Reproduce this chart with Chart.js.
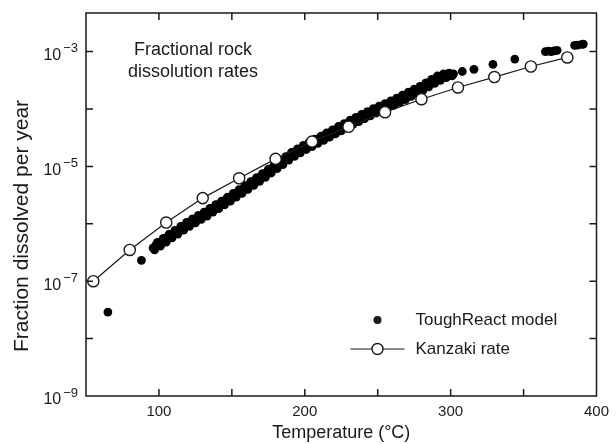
<!DOCTYPE html>
<html>
<head>
<meta charset="utf-8">
<script src="https://cdn.jsdelivr.net/npm/chart.js@4"></script>
<style>
  html, body { margin: 0; padding: 0; background: #fff; }
  #wrap { width: 616px; height: 444px; }
</style>
</head>
<body>
<div id="wrap"><canvas id="grafico" width="616" height="444"></canvas></div>
<script>
const tinta = "#1a1a1a";
const fuente = "'Liberation Sans', Arial, Helvetica, sans-serif";

// Kanzaki rate (open circles joined by a line)
const kanzakiTemp = [55, 80, 105, 130, 155, 180, 205, 230, 255, 280, 305, 330, 355, 380];
const kanzakiRate = [1.0e-7, 3.5e-7, 1.05e-6, 2.8e-6, 6.2e-6, 1.35e-5, 2.7e-5, 4.9e-5, 8.8e-5, 1.48e-4, 2.37e-4, 3.6e-4, 5.5e-4, 7.9e-4];

// ToughReact model (filled dots): isolated low points, the dense band, the sparse high points
const toughTemp = [
  65, 88,
  96, 97, 98, 99, 100, 101, 102, 103, 104, 105, 106, 107, 108, 109, 110, 111, 112, 113, 114, 115,
  116, 117, 118, 119, 120, 121, 122, 123, 124, 125, 126, 127, 128, 129, 130, 131, 132, 133, 134, 135,
  136, 137, 138, 139, 140, 141, 142, 143, 144, 145, 146, 147, 148, 149, 150, 151, 152, 153, 154, 155,
  156, 157, 158, 159, 160, 161, 162, 163, 164, 165, 166, 167, 168, 169, 170, 171, 172, 173, 174, 175,
  176, 177, 178, 179, 180, 181, 182, 183, 184, 185, 186, 187, 188, 189, 190, 191, 192, 193, 194, 195,
  196, 197, 198, 199, 200, 201, 202, 203, 204, 205, 206, 207, 208, 209, 210, 211, 212, 213, 214, 215,
  216, 217, 218, 219, 220, 221, 222, 223, 224, 225, 226, 227, 228, 229, 230, 231, 232, 233, 234, 235,
  236, 237, 238, 239, 240, 241, 242, 243, 244, 245, 246, 247, 248, 249, 250, 251, 252, 253, 254, 255,
  256, 257, 258, 259, 260, 261, 262, 263, 264, 265, 266, 267, 268, 269, 270, 271, 272, 273, 274, 275,
  276, 277, 278, 279, 280, 281, 282, 283, 284, 285, 286, 287, 288, 289, 290, 291, 292, 293, 294, 295,
  296, 297, 298, 299, 300, 301, 302,
  308, 316, 329, 344, 365, 367, 369, 371, 373, 385, 387, 390, 391
];
const toughRate = [
  2.9e-8, 2.3e-7,
  3.8e-7, 3.51e-7, 4.3e-7, 4.73e-7, 4.2e-7, 4.07e-7, 4.9e-7, 5.56e-7, 4.9e-7, 4.79e-7, 5.9e-7, 6.61e-7, 6.0e-7, 5.69e-7, 6.9e-7, 7.67e-7, 6.8e-7, 6.61e-7, 7.9e-7, 9.02e-7,
  7.9e-7, 7.76e-7, 9.5e-7, 1.06e-6, 9.5e-7, 9.02e-7, 1.1e-6, 1.22e-6, 1.07e-6, 1.035e-6, 1.23e-6, 1.4e-6, 1.23e-6, 1.19e-6, 1.45e-6, 1.6e-6, 1.45e-6, 1.36e-6, 1.66e-6, 1.86e-6,
  1.66e-6, 1.6e-6, 1.9e-6, 2.16e-6, 1.9e-6, 1.84e-6, 2.24e-6, 2.48e-6, 2.24e-6, 2.14e-6, 2.63e-6, 2.92e-6, 2.57e-6, 2.48e-6, 2.95e-6, 3.39e-6, 3.0e-6, 2.92e-6, 3.55e-6, 3.94e-6,
  3.55e-6, 3.39e-6, 4.2e-6, 4.62e-6, 4.1e-6, 3.98e-6, 4.8e-6, 5.43e-6, 4.8e-6, 4.68e-6, 5.75e-6, 6.38e-6, 5.75e-6, 5.5e-6, 6.8e-6, 7.5e-6, 6.6e-6, 6.46e-6, 7.8e-6, 8.91e-6,
  7.9e-6, 7.67e-6, 9.5e-6, 1.05e-5, 9.5e-6, 9.12e-6, 1.12e-5, 1.24e-5, 1.1e-5, 1.07e-5, 1.29e-5, 1.48e-5, 1.32e-5, 1.29e-5, 1.58e-5, 1.76e-5, 1.58e-5, 1.5e-5, 1.82e-5, 2.02e-5,
  1.78e-5, 1.72e-5, 2.04e-5, 2.32e-5, 2.04e-5, 1.97e-5, 2.4e-5, 2.63e-5, 2.34e-5, 2.21e-5, 2.75e-5, 2.99e-5, 2.63e-5, 2.51e-5, 2.95e-5, 3.35e-5, 2.95e-5, 2.85e-5, 3.55e-5, 3.85e-5,
  3.47e-5, 3.24e-5, 3.9e-5, 4.32e-5, 3.8e-5, 3.67e-5, 4.4e-5, 4.95e-5, 4.4e-5, 4.17e-5, 5.0e-5, 5.56e-5, 5.0e-5, 4.73e-5, 5.75e-5, 6.38e-5, 5.6e-5, 5.37e-5, 6.3e-5, 7.16e-5,
  6.3e-5, 6.03e-5, 7.2e-5, 8.04e-5, 7.2e-5, 6.76e-5, 8.1e-5, 9.02e-5, 7.9e-5, 7.59e-5, 8.9e-5, 1.01e-4, 8.9e-5, 8.51e-5, 1.02e-4, 1.12e-4, 1.0e-4, 9.33e-5, 1.12e-4, 1.24e-4,
  1.1e-4, 1.05e-4, 1.23e-4, 1.38e-4, 1.2e-4, 1.16e-4, 1.41e-4, 1.55e-4, 1.38e-4, 1.3e-4, 1.58e-4, 1.74e-4, 1.51e-4, 1.46e-4, 1.74e-4, 1.97e-4, 1.74e-4, 1.66e-4, 2.0e-4, 2.21e-4,
  2.0e-4, 1.86e-4, 2.24e-4, 2.48e-4, 2.19e-4, 2.11e-4, 2.5e-4, 2.85e-4, 2.5e-4, 2.43e-4, 2.95e-4, 3.27e-4, 2.95e-4, 2.79e-4, 3.4e-4, 3.76e-4, 3.3e-4, 3.16e-4, 3.7e-4, 4.07e-4,
  3.7e-4, 3.51e-4, 4.1e-4, 4.22e-4, 3.9e-4, 3.76e-4, 4.1e-4,
  4.5e-4, 4.9e-4, 6.0e-4, 7.4e-4, 1.0e-3, 1.02e-3, 1.0e-3, 1.03e-3, 1.05e-3, 1.28e-3, 1.3e-3, 1.33e-3, 1.35e-3
];

// axis ticks
const xTicks = [50, 100, 150, 200, 250, 300, 350, 400];
const xLabels = [100, 200, 300, 400];
const yExponentes = [-9, -8, -7, -6, -5, -4, -3];
const yExpLabels = [-9, -7, -5, -3];

const tituloY = "Fraction dissolved per year";
const notaTexto = ["Fractional rock", "dissolution rates"];

function puntos(xs, ys) {
  return xs.map((t, i) => ({ x: t, y: ys[i] }));
}

const largoTick = 7;

const marcoPlugin = {
  id: "marco",
  afterDatasetsDraw(chart) {
    const { ctx, chartArea: a, scales: { x, y } } = chart;
    ctx.save();
    ctx.strokeStyle = tinta;
    ctx.lineWidth = 1.5;
    ctx.strokeRect(a.left, a.top, a.right - a.left, a.bottom - a.top);

    ctx.beginPath();
    x.ticks.forEach((t) => {
      const px = x.getPixelForValue(t.value);
      if (px <= a.left + 1 || px >= a.right - 1) return;
      ctx.moveTo(px, a.bottom); ctx.lineTo(px, a.bottom - largoTick);
      ctx.moveTo(px, a.top); ctx.lineTo(px, a.top + largoTick);
    });
    y.ticks.forEach((t) => {
      const py = y.getPixelForValue(t.value);
      if (py >= a.bottom - 1 || py <= a.top + 1) return;
      ctx.moveTo(a.left, py); ctx.lineTo(a.left + largoTick, py);
      ctx.moveTo(a.right, py); ctx.lineTo(a.right - largoTick, py);
    });
    ctx.stroke();

    // y labels: 10 with a raised exponent
    ctx.fillStyle = tinta;
    ctx.textBaseline = "middle";
    ctx.textAlign = "left";
    yExpLabels.forEach((e) => {
      const py = y.getPixelForValue(Math.pow(10, e));
      const exp = "\u2212" + Math.abs(e);
      ctx.font = "13px " + fuente;
      const wExp = ctx.measureText(exp).width;
      ctx.font = "16px " + fuente;
      const wBase = ctx.measureText("10").width;
      const fin = a.left - 8;
      ctx.fillText("10", fin - wExp - wBase - 2, py + 4);
      ctx.font = "13px " + fuente;
      ctx.fillText(exp, fin - wExp, py - 3);
    });

    // y axis title
    ctx.save();
    ctx.translate(22, 226);
    ctx.rotate(-Math.PI / 2);
    ctx.textAlign = "center";
    ctx.font = "21px " + fuente;
    ctx.fillText(tituloY, 0, 0);
    ctx.restore();

    ctx.restore();
  },
  afterDraw(chart) {
    const { ctx, chartArea: a } = chart;
    ctx.save();
    ctx.fillStyle = tinta;
    ctx.textBaseline = "middle";

    // note inside the plot
    ctx.font = "18px " + fuente;
    ctx.textAlign = "center";
    notaTexto.forEach((linea, i) => {
      ctx.fillText(linea, a.left + 107, a.top + 37 + i * 22);
    });

    // legend
    const ds = chart.data.datasets;
    const xSim = a.right - 219;
    const xTxt = a.right - 181;
    const y1 = a.bottom - 76;
    const y2 = a.bottom - 47;
    ctx.font = "17px " + fuente;
    ctx.textAlign = "left";

    ctx.beginPath();
    ctx.arc(xSim, y1, 4, 0, Math.PI * 2);
    ctx.fill();
    ctx.fillText(ds[1].label, xTxt, y1);

    ctx.strokeStyle = tinta;
    ctx.lineWidth = 1.2;
    ctx.beginPath();
    ctx.moveTo(xSim - 27, y2); ctx.lineTo(xSim + 27, y2);
    ctx.stroke();
    ctx.beginPath();
    ctx.arc(xSim, y2, 5.5, 0, Math.PI * 2);
    ctx.fillStyle = "#fff";
    ctx.fill();
    ctx.lineWidth = 1.4;
    ctx.stroke();
    ctx.fillStyle = tinta;
    ctx.fillText(ds[0].label, xTxt, y2);
    ctx.restore();
  }
};

function init() {
  const canvas = document.getElementById("grafico");
  window.graficoRef = new Chart(canvas, {
    type: "scatter",
    data: {
      datasets: [
        {
          label: "Kanzaki rate",
          data: puntos(kanzakiTemp, kanzakiRate),
          showLine: true,
          borderColor: tinta,
          borderWidth: 1.2,
          pointRadius: 5.6,
          pointBackgroundColor: "#fff",
          pointBorderColor: tinta,
          pointBorderWidth: 1.4,
          order: 0
        },
        {
          label: "ToughReact model",
          data: puntos(toughTemp, toughRate),
          showLine: false,
          pointRadius: 4.4,
          pointBackgroundColor: "#000",
          pointBorderWidth: 0,
          order: 1
        }
      ]
    },
    options: {
      responsive: false,
      animation: false,
      layout: { padding: { top: 13, right: 12, left: 0, bottom: 0 } },
      plugins: { legend: { display: false }, tooltip: { enabled: false } },
      scales: {
        x: {
          type: "linear",
          min: 50,
          max: 400,
          grid: { display: false, drawTicks: false },
          border: { display: false },
          afterBuildTicks: (scale) => { scale.ticks = xTicks.map((v) => ({ value: v })); },
          afterFit: (scale) => { scale.height = 48; },
          ticks: {
            autoSkip: false,
            maxRotation: 0,
            padding: 7,
            color: tinta,
            font: { family: fuente, size: 15 },
            callback: (v) => (xLabels.includes(v) ? String(v) : "")
          },
          title: {
            display: true,
            text: "Temperature (\u00B0C)",
            color: tinta,
            font: { family: fuente, size: 18 },
            padding: { top: 0, bottom: 0 }
          }
        },
        y: {
          type: "logarithmic",
          min: 1e-9,
          max: 4.7e-3,
          grid: { display: false, drawTicks: false },
          border: { display: false },
          afterBuildTicks: (scale) => { scale.ticks = yExponentes.map((e) => ({ value: Math.pow(10, e) })); },
          afterFit: (scale) => { scale.width = 86; },
          ticks: { display: false },
          title: { display: false }
        }
      }
    },
    plugins: [marcoPlugin]
  });
}

if (document.readyState === "loading") {
  document.addEventListener("DOMContentLoaded", init);
} else {
  init();
}
</script>
</body>
</html>
